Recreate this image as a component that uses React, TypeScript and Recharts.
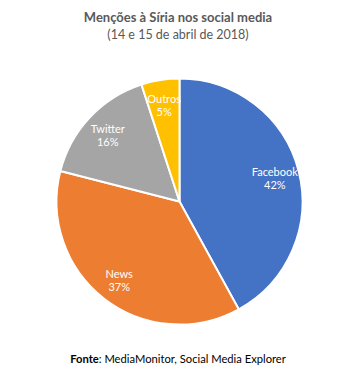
import { PieChart, Pie, Cell } from 'recharts';

const categories = ['Facebook', 'News', 'Twitter', 'Outros'];
const shares = [42, 37, 16, 5];
const colors = ['#4472C4', '#ED7D31', '#A5A5A5', '#FFC000'];

const data = categories.map((name, i) => ({ name, value: shares[i] }));

const RADIAN = Math.PI / 180;

const renderLabel = (props: any) => {
  const { cx, cy, midAngle, outerRadius, name, value } = props;
  const r = outerRadius * 0.8;
  const x = cx + r * Math.cos(-midAngle * RADIAN);
  const y = cy + r * Math.sin(-midAngle * RADIAN);
  return (
    <text x={x} y={y} fill="#fff" textAnchor="middle" fontSize={11} fontFamily="Lato, sans-serif">
      <tspan x={x} dy={-1}>{name}</tspan>
      <tspan x={x} dy={13}>{value}%</tspan>
    </text>
  );
};

const App = () => {
  return (
    <div style={{ position: 'absolute', left: 0, top: 0, width: 356, height: 375, background: '#fff', fontFamily: 'Lato, sans-serif' }}>
      <div style={{ position: 'absolute', top: 9, width: 356, textAlign: 'center', color: '#595959' }}>
        <div style={{ fontSize: 13, fontWeight: 'bold', lineHeight: '17px' }}>Menções à Síria nos social media</div>
        <div style={{ fontSize: 12.5, lineHeight: '17px' }}>(14 e 15 de abril de 2018)</div>
      </div>
      <div style={{ position: 'absolute', left: 0, top: 0, width: 356, height: 375 }}>
        <PieChart width={356} height={375} margin={{ top: 0, right: 0, bottom: 0, left: 0 }}>
          <Pie
            data={data}
            dataKey="value"
            nameKey="name"
            cx={179.5}
            cy={201.5}
            outerRadius={123}
            startAngle={90}
            endAngle={-270}
            stroke="#fff"
            strokeWidth={2}
            label={renderLabel}
            labelLine={false}
            isAnimationActive={false}
          >
            {data.map((d, i) => (
              <Cell key={d.name} fill={colors[i]} />
            ))}
          </Pie>
        </PieChart>
      </div>
      <div style={{ position: 'absolute', top: 352, width: 356, textAlign: 'center', color: '#000', fontSize: 11.2 }}>
        <b>Fonte</b>: MediaMonitor, Social Media Explorer
      </div>
    </div>
  );
};

export default App;
